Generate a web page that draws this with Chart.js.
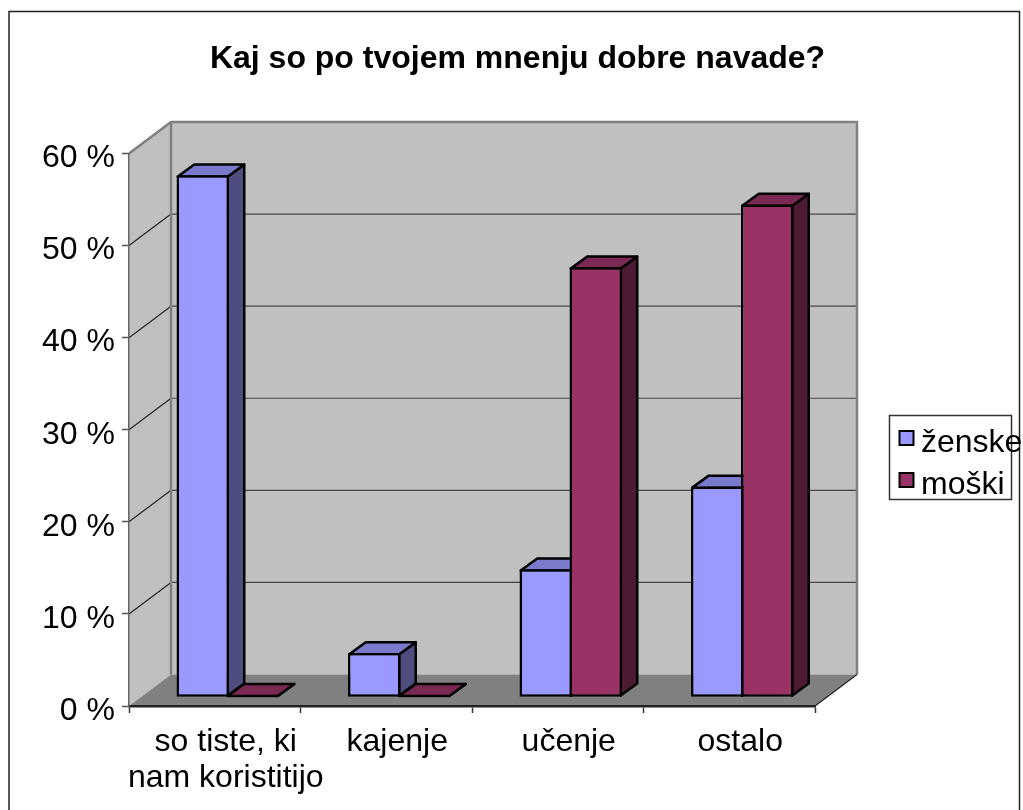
<!DOCTYPE html>
<html>
<head>
<meta charset="utf-8">
<style>html,body{margin:0;padding:0;background:#fff}#w{width:1023px;height:810px}canvas{display:block}</style>
<script src="https://cdn.jsdelivr.net/npm/chart.js@4"></script>
</head>
<body>
<div id="w"><canvas id="c" width="1023" height="810"></canvas></div>
<script>
const titleText = 'Kaj so po tvojem mnenju dobre navade?';
const categories = [['so tiste, ki', 'nam koristitijo'], 'kajenje', 'učenje', 'ostalo'];
const zenske = [56.7, 4.8, 13.9, 22.9];
const moski = [0, 0, 46.7, 53.5];
const seriesNames = ['ženske', 'moški'];
const seriesFront = ['#9999FF', '#993366'];
const seriesTop = ['#7A7ACC', '#7A2952'];
const seriesSide = ['#4D4D80', '#4D1A33'];
const FONT = '"Liberation Sans", Arial, sans-serif';
const WALL_DX = 42, WALL_DY = -31.5;
const BAR_DX = 13, BAR_DY = -8.75;
const FACE_DX = 16.5, FACE_DY = -12;
const BAR_LW = 2.5;

function poly(ctx, pts, fill, stroke, lw) {
  ctx.beginPath();
  pts.forEach((p, i) => i ? ctx.lineTo(p[0], p[1]) : ctx.moveTo(p[0], p[1]));
  ctx.closePath();
  if (fill) { ctx.fillStyle = fill; ctx.fill(); }
  if (stroke) { ctx.strokeStyle = stroke; ctx.lineWidth = lw; ctx.lineJoin = 'round'; ctx.stroke(); }
}

const scene = {
  id: 'scene',
  afterLayout(chart) {
    const t = chart.titleBlock;
    t.left = 12; t.right = 1023;
    const l = chart.legend;
    l.left = 889; l.right = 1023; l.top = 417; l.bottom = 514;
  },
  beforeDraw(chart) {
    const ctx = chart.ctx, a = chart.chartArea, y = chart.scales.y;
    ctx.save();
    ctx.strokeStyle = '#222'; ctx.lineWidth = 1.5;
    ctx.beginPath();
    ctx.moveTo(9, 812); ctx.lineTo(9, 11.5); ctx.lineTo(1019.5, 11.5); ctx.lineTo(1019.5, 812);
    ctx.stroke();
    ctx.strokeStyle = '#333'; ctx.lineWidth = 1.5;
    ctx.strokeRect(889.5, 415.5, 122, 84);
    const L = a.left, R = a.right, T = y.getPixelForValue(60), B = y.getPixelForValue(0);
    const dx = WALL_DX, dy = WALL_DY;
    poly(ctx, [[L, T], [L + dx, T + dy], [L + dx, B + dy], [L, B]], '#C0C0C0');
    poly(ctx, [[L + dx, T + dy], [R + dx, T + dy], [R + dx, B + dy], [L + dx, B + dy]], '#C0C0C0');
    poly(ctx, [[L, B], [L + dx, B + dy], [R + dx, B + dy], [R, B]], '#808080');
    y.ticks.forEach(t => {
      const p = y.getPixelForValue(t.value);
      if (t.value === 0 || t.value === 60) return;
      ctx.lineWidth = 1.2; ctx.strokeStyle = '#222';
      ctx.beginPath();
      ctx.moveTo(L, p); ctx.lineTo(L + dx, p + dy);
      ctx.stroke();
      ctx.strokeStyle = '#444';
      ctx.beginPath();
      ctx.moveTo(L + dx, p + dy); ctx.lineTo(R + dx, p + dy);
      ctx.stroke();
    });
    ctx.strokeStyle = '#808080'; ctx.lineWidth = 2.5;
    ctx.beginPath();
    ctx.moveTo(L, T); ctx.lineTo(L + dx, T + dy); ctx.lineTo(R + dx, T + dy); ctx.lineTo(R + dx, B + dy);
    ctx.moveTo(L + dx, T + dy); ctx.lineTo(L + dx, B + dy);
    ctx.stroke();
    ctx.strokeStyle = '#222'; ctx.lineWidth = 1.2;
    ctx.beginPath();
    ctx.moveTo(R, B); ctx.lineTo(R + dx, B + dy);
    ctx.stroke();
    ctx.restore();
  },
  beforeDatasetsDraw(chart) {
    const ctx = chart.ctx;
    ctx.save();
    ctx.translate(BAR_DX, BAR_DY);
    const i = BAR_LW / 2;
    [0, 1].forEach(d => {
      chart.getDatasetMeta(d).data.forEach(b => {
        const x0 = b.x - b.width / 2 + i, x1 = b.x + b.width / 2 - i;
        const base = b.base - i, top = Math.min(b.y + i, base);
        const fx = FACE_DX, fy = FACE_DY;
        poly(ctx, [[x1, top], [x1 + fx, top + fy], [x1 + fx, base + fy], [x1, base]], seriesSide[d], '#000', BAR_LW);
        poly(ctx, [[x0, top], [x0 + fx, top + fy], [x1 + fx, top + fy], [x1, top]], seriesTop[d], '#000', BAR_LW);
      });
    });
  },
  afterDatasetsDraw(chart) {
    chart.ctx.restore();
  },
  afterDraw(chart) {
    const ctx = chart.ctx, l = chart.legend;
    ctx.save();
    l.legendHitBoxes.forEach((h, i) => {
      const yc = Math.round(h.top + h.height / 2) - 5;
      ctx.fillStyle = seriesFront[i];
      ctx.strokeStyle = '#000';
      ctx.lineWidth = 2;
      ctx.fillRect(899.5, yc - 7, 14, 14);
      ctx.strokeRect(899.5, yc - 7, 14, 14);
    });
    ctx.restore();
  }
};

new Chart(document.getElementById('c'), {
  type: 'bar',
  data: {
    labels: categories,
    datasets: [zenske, moski].map((d, i) => ({
      label: seriesNames[i],
      data: d,
      backgroundColor: seriesFront[i],
      borderColor: '#000',
      borderWidth: BAR_LW,
      borderSkipped: false,
      barPercentage: 1.05,
      categoryPercentage: 0.583,
      clip: false
    }))
  },
  options: {
    responsive: false,
    animation: false,
    layout: { padding: { left: 0, right: 208, top: 0, bottom: 0 } },
    plugins: {
      tooltip: { enabled: false },
      title: {
        display: true,
        text: titleText,
        color: '#000',
        font: { family: FONT, size: 32, weight: 'bold', lineHeight: 1.2 },
        padding: { top: 40, bottom: 75.1 }
      },
      legend: {
        position: 'chartArea',
        align: 'start',
        labels: {
          color: '#000',
          font: { family: FONT, size: 32 },
          boxWidth: 6,
          boxHeight: 15,
          padding: 10,
          generateLabels: chart => seriesNames.map((n, i) => ({
            text: n, fillStyle: 'rgba(0,0,0,0)', strokeStyle: 'rgba(0,0,0,0)', lineWidth: 0, datasetIndex: i, fontColor: '#000'
          }))
        }
      }
    },
    scales: {
      x: {
        grid: { display: true, drawOnChartArea: false, drawTicks: true, tickLength: 7, tickColor: '#333', tickWidth: 1.5 },
        border: { display: true, color: '#222', width: 2.5 },
        afterFit: s => { s.height = 104; },
        ticks: {
          color: '#000', autoSkip: false, maxRotation: 0, minRotation: 0,
          labelOffset: 11, padding: 12,
          font: { family: FONT, size: 32, lineHeight: 1.1 }
        }
      },
      y: {
        min: 0, max: 60,
        grid: { display: true, drawOnChartArea: false, drawTicks: true, tickLength: 7, tickColor: '#555', tickWidth: 1.5 },
        border: { display: true, color: '#666', width: 1.5 },
        afterFit: s => { s.width = 129; },
        ticks: {
          color: '#000', stepSize: 10, padding: 7, labelOffset: 5,
          font: { family: FONT, size: 32 },
          callback: v => v + ' %'
        }
      }
    }
  },
  plugins: [scene]
});
</script>
</body>
</html>
